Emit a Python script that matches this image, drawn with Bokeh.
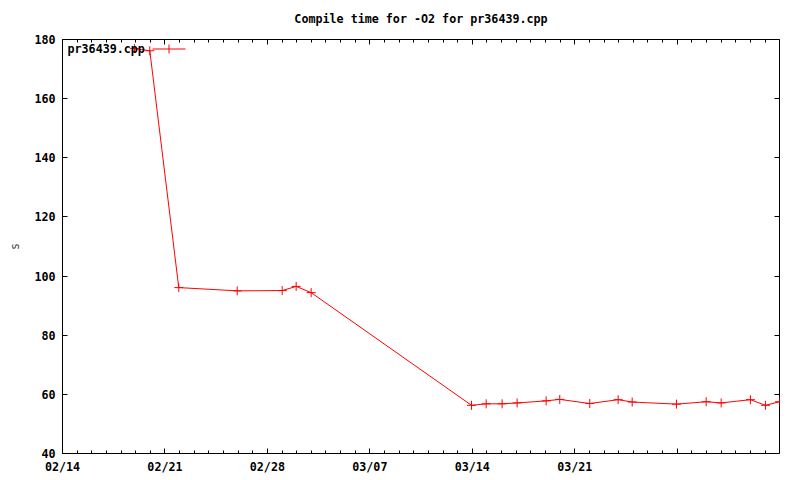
import pandas as pd
from bokeh.plotting import figure
from bokeh.models import (LinearAxis, FixedTicker, Range1d, Label, Arrow,
                          ColumnDataSource)
from bokeh.embed import file_html
from bokeh.resources import INLINE

TITLE = "Compile time for -O2 for pr36439.cpp"
SERIES_NAME = "pr36439.cpp"
Y_LABEL = "s"

DATES = ["2009-02-18 22:00", "2009-02-19 23:10", "2009-02-21 22:40",
         "2009-02-25 22:30", "2009-03-01 00:15", "2009-03-01 23:10",
         "2009-03-02 23:45", "2009-03-13 22:40", "2009-03-14 22:45",
         "2009-03-16 00:55", "2009-03-17 01:30", "2009-03-19 01:05",
         "2009-03-19 23:25", "2009-03-22 00:35", "2009-03-23 23:10",
         "2009-03-24 22:10", "2009-03-27 22:45", "2009-03-29 23:30",
         "2009-03-31 00:05", "2009-04-02 00:05", "2009-04-03 00:40",
         "2009-04-03 23:45"]
SECONDS = [176.9, 176.2, 96.1, 95.0, 95.1, 96.5, 94.4, 56.3, 56.8, 56.8,
           57.1, 57.8, 58.3, 56.9, 58.2, 57.4, 56.7, 57.5, 57.1, 58.2,
           56.3, 57.5]

X_START = "2009-02-14"
X_TICK_DATES = ["2009-02-14", "2009-02-21", "2009-02-28", "2009-03-07",
                "2009-03-14", "2009-03-21", "2009-03-28"]
X_TICK_LABELS = ["02/14", "02/21", "02/28", "03/07", "03/14", "03/21", ""]
Y_MIN, Y_MAX = 40, 180
Y_TICKS = [40, 60, 80, 100, 120, 140, 160, 180]

FONT = "DejaVu Sans Mono"
FSIZE = "11.7px"
RED = "#ff0000"


def ms(s):
    return pd.Timestamp(s).value // 10**6


dates = pd.to_datetime(DATES)
src = ColumnDataSource(dict(x=dates, y=SECONDS))

x0 = ms(X_START)
x1 = ms(DATES[-1])
major = [ms(d) for d in X_TICK_DATES]
minor = [int(t.value // 10**6) for t in pd.date_range(X_START, DATES[-1], freq="D")]
x_ticker = FixedTicker(ticks=major, minor_ticks=minor)
y_ticker = FixedTicker(ticks=Y_TICKS, minor_ticks=[])

p = figure(width=800, height=480, x_axis_type=None, y_axis_type=None,
           x_range=Range1d(x0, x1), y_range=Range1d(Y_MIN, Y_MAX),
           output_backend="svg", toolbar_location=None,
           min_border_left=62, min_border_right=21,
           min_border_top=39, min_border_bottom=27)
p.outline_line_color = "black"
p.outline_line_width = 1
p.background_fill_color = "white"
p.border_fill_color = "white"

p.title.text = TITLE
p.title.align = "center"
p.title.vertical_align = "top"
p.title.text_font = FONT
p.title.text_font_size = FSIZE
p.title.text_font_style = "bold"
p.title.text_color = "black"
p.title.standoff = 23


def style(ax, show_labels):
    ax.axis_line_color = None
    ax.major_tick_in = 5
    ax.major_tick_out = 0
    ax.minor_tick_in = 3
    ax.minor_tick_out = 0
    ax.major_tick_line_color = "black"
    ax.minor_tick_line_color = "black"
    ax.major_label_text_font = FONT
    ax.major_label_text_font_style = "bold"
    ax.major_label_text_color = "black"
    if show_labels:
        ax.major_label_text_font_size = FSIZE
    else:
        ax.major_label_text_font_size = "0px"
        ax.major_label_text_color = None
        ax.major_label_standoff = 0


xb = LinearAxis(ticker=x_ticker)
style(xb, True)
xb.major_label_overrides = {t: lab for t, lab in zip(major, X_TICK_LABELS)}
xb.major_label_standoff = 6
p.add_layout(xb, "below")

xt = LinearAxis(ticker=x_ticker)
style(xt, False)
p.add_layout(xt, "above")

yl = LinearAxis(ticker=y_ticker)
style(yl, True)
yl.major_label_standoff = 7
yl.axis_label = Y_LABEL
yl.axis_label_text_font = FONT
yl.axis_label_text_font_size = FSIZE
yl.axis_label_text_font_style = "normal"
yl.axis_label_standoff = 9
p.add_layout(yl, "left")

yr = LinearAxis(ticker=y_ticker)
style(yr, False)
p.add_layout(yr, "right")

p.line(x="x", y="y", source=src, line_color=RED, line_width=1)
p.scatter(x="x", y="y", source=src, marker="cross", size=9,
          line_color=RED, line_width=1)

# gnuplot-style key: title text, then a sample line with its point symbol
KEY_Y = 404.5
p.add_layout(Label(x=5, y=KEY_Y, x_units="screen", y_units="screen",
                   text=SERIES_NAME, text_font=FONT, text_font_size=FSIZE,
                   text_font_style="bold", text_baseline="middle",
                   text_color="black"))
p.add_layout(Arrow(x_start=90, y_start=KEY_Y, x_end=123, y_end=KEY_Y,
                   start_units="screen", end_units="screen", end=None,
                   line_color=RED, line_width=1))
p.add_layout(Arrow(x_start=106.5, y_start=KEY_Y - 4.5, x_end=106.5,
                   y_end=KEY_Y + 4.5, start_units="screen",
                   end_units="screen", end=None,
                   line_color=RED, line_width=1))

open("out.html", "w").write(file_html(p, INLINE))
